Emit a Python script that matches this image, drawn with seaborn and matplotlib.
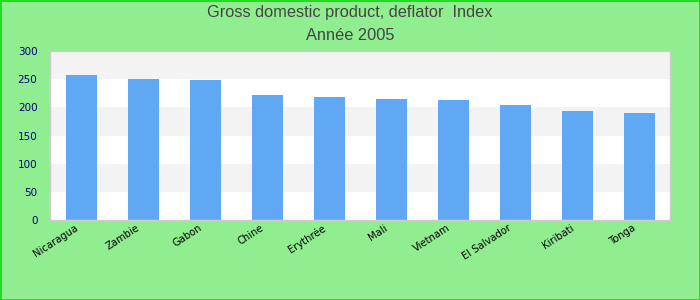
import matplotlib
matplotlib.use('Agg')
import matplotlib.pyplot as plt
import matplotlib.transforms as mtransforms
import seaborn as sns

# data
pays = ['Nicaragua', 'Zambie', 'Gabon', 'Chine', 'Erythrée', 'Mali',
        'Vietnam', 'El Salvador', 'Kiribati', 'Tonga']
valeurs = [257.5, 250.5, 248.5, 222, 218.5, 215, 213, 204, 193.5, 190]
y_ticks = [0, 50, 100, 150, 200, 250, 300]

sns.set_style('white')
plt.rcParams['font.family'] = ['DejaVu Sans']

fig = plt.figure(figsize=(7, 3), dpi=100, facecolor='#90ee90',
                 edgecolor='#22dd22', linewidth=2)
ax = fig.add_axes([50 / 700, 80 / 300, 620 / 700, 169 / 300])
ax.set_facecolor('white')

# alternating horizontal bands
for i in range(len(y_ticks) - 1):
    if i % 2 == 1:
        ax.axhspan(y_ticks[i], y_ticks[i + 1], color='#f3f3f3', zorder=0,
                   linewidth=0)

sns.barplot(x=pays, y=valeurs, color='#60a8f4', width=0.5, saturation=1,
            linewidth=0, edgecolor='none', ax=ax, zorder=2)

ax.set_ylim(0, 300)
ax.set_yticks(y_ticks)
ax.set_xlabel('')
ax.set_ylabel('')
ax.tick_params(axis='y', labelsize=7.5, labelcolor='#000080', length=0, pad=9)
ax.tick_params(axis='x', labelsize=7.2, labelcolor='black', length=0, pad=2)
decal = mtransforms.ScaledTranslation(-7 / 100, 0, fig.dpi_scale_trans)
for lab in ax.get_xticklabels():
    lab.set_rotation(33)
    lab.set_ha('right')
    lab.set_rotation_mode('anchor')
    lab.set_transform(lab.get_transform() + decal)

for s in ax.spines.values():
    s.set_color('#cccccc')
    s.set_linewidth(1)

fig.text(0.5, 1 - 13 / 300, 'Gross domestic product, deflator  Index',
         ha='center', va='center', fontsize=11.8, color='#444444',
         family='Liberation Sans')
fig.text(0.5, 1 - 35 / 300, 'Année 2005', ha='center', va='center',
         fontsize=11.8, color='#444444', family='Liberation Sans')

fig.savefig('out.png', dpi=100, facecolor=fig.get_facecolor(),
            edgecolor=fig.get_edgecolor())
